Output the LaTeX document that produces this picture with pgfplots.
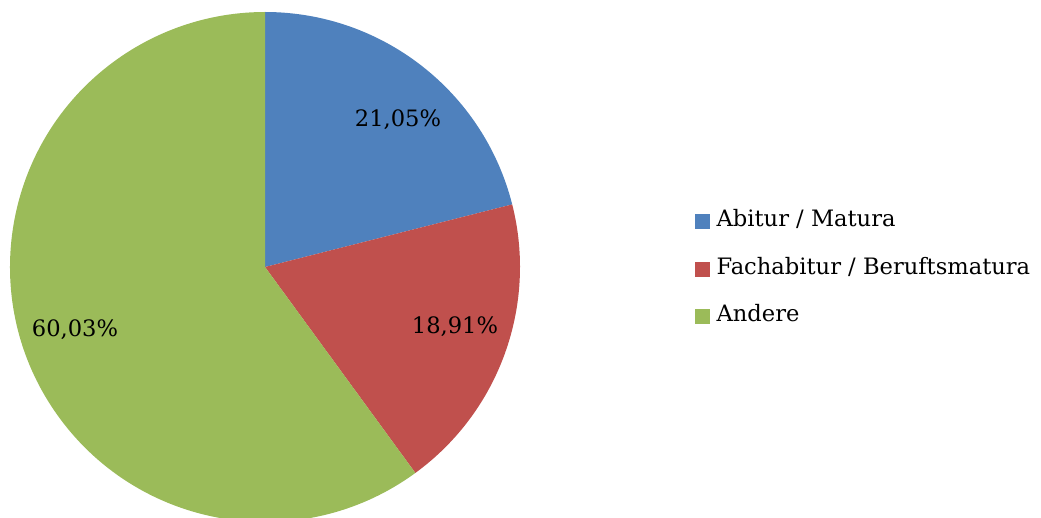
\documentclass[border=0pt]{standalone}
\usepackage{pgfplots}
\pgfplotsset{compat=1.18}
\usepackage{pgfplotstable}
\usepackage{fontspec}
\setmainfont{DejaVu Serif}

\definecolor{cAbi}{HTML}{4F81BD}
\definecolor{cFach}{HTML}{C0504D}
\definecolor{cAnd}{HTML}{9BBB59}

% share in percent
\pgfplotstableread{
label    value
Abitur   21.05
Fach     18.91
Andere   60.03
}\piedata

\begin{document}
\begin{tikzpicture}
\pgfplotstablegetelem{0}{value}\of\piedata \let\va\pgfplotsretval
\pgfplotstablegetelem{1}{value}\of\piedata \let\vb\pgfplotsretval
\pgfplotstablegetelem{2}{value}\of\piedata \let\vc\pgfplotsretval
\pgfmathsetmacro{\tot}{\va+\vb+\vc}
\pgfmathsetmacro{\aa}{90-360*\va/\tot}
\pgfmathsetmacro{\ab}{\aa-360*\vb/\tot}
\begin{axis}[
    name=ax,
    scale only axis,
    width=1041pt, height=517pt,
    xmin=0, xmax=1041, ymin=0, ymax=517,
    hide axis,
    clip=true,
    legend style={draw=none, fill=none, at={(axis cs:695,248)}, anchor=west,
        font=\fontsize{22.6}{26}\selectfont, row sep=26.5pt, column sep=7pt,
        inner sep=0pt, nodes={inner sep=0pt, text height=16pt, text depth=5pt}},
    legend cell align=left,
]
\addlegendimage{legend image code/.code={\fill[cAbi] (0pt,-7pt) rectangle (14pt,7pt);}}
\addlegendentry{Abitur / Matura}
\addlegendimage{legend image code/.code={\fill[cFach] (0pt,-7pt) rectangle (14pt,7pt);}}
\addlegendentry{Fachabitur / Beruftsmatura}
\addlegendimage{legend image code/.code={\fill[cAnd] (0pt,-7pt) rectangle (14pt,7pt);}}
\addlegendentry{Andere}

\fill[cAbi] (axis cs:265,250) -- ++(90:255pt) arc[start angle=90, end angle=\aa, radius=255pt] -- cycle;
\fill[cFach] (axis cs:265,250) -- ++(\aa:255pt) arc[start angle=\aa, end angle=\ab, radius=255pt] -- cycle;
\fill[cAnd] (axis cs:265,250) -- ++(\ab:255pt) arc[start angle=\ab, end angle=-270, radius=255pt] -- cycle;

\node[font=\fontsize{22.6}{26}\selectfont] at (axis cs:398,397) {21,05\%};
\node[font=\fontsize{22.6}{26}\selectfont] at (axis cs:455,190) {18,91\%};
\node[font=\fontsize{22.6}{26}\selectfont] at (axis cs:75,187) {60,03\%};
\end{axis}
\pgfresetboundingbox
\path (ax.south west) rectangle (ax.north east);
\end{tikzpicture}
\end{document}
